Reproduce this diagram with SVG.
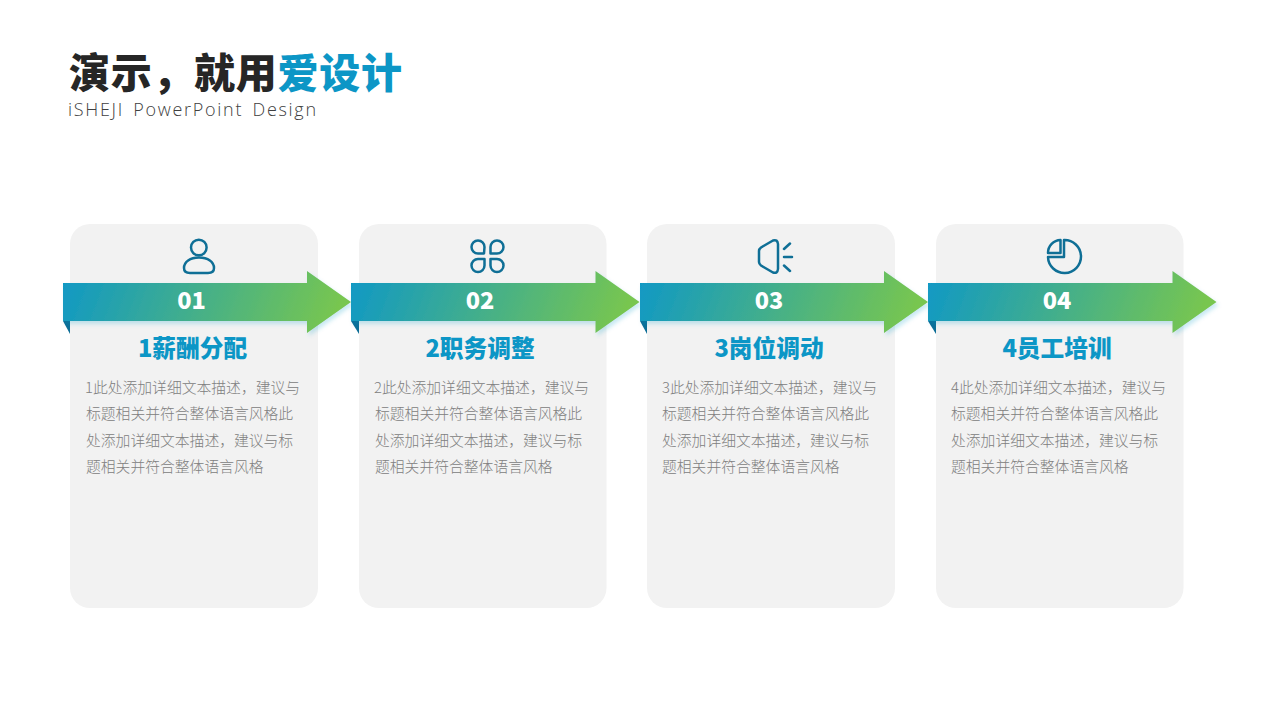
<svg xmlns="http://www.w3.org/2000/svg" width="1280" height="720" viewBox="0 0 1280 720">
<style>
.cjk{font-family:"Noto Sans CJK SC","Noto Sans",sans-serif}
.h{font-size:41px;font-weight:900;fill:#262626}
.sub{font-family:"Open Sans","Noto Sans",sans-serif;font-size:18px;font-weight:300;fill:#404040;letter-spacing:1.7px;word-spacing:3px}
.card{fill:#f2f2f2}
.num{font-family:"Noto Sans CJK SC","Noto Sans",sans-serif;font-size:23.5px;font-weight:900;fill:#fff;text-anchor:middle}
.t{font-family:"Noto Sans CJK SC","Noto Sans",sans-serif;font-size:23.7px;font-weight:900;fill:#0c96c6;text-anchor:middle}
.b{font-family:"Noto Sans CJK SC",sans-serif;font-size:14.8px;font-weight:300;fill:#808080}
.ic{fill:none;stroke:#0f6f96;stroke-width:2.5;stroke-linecap:round;stroke-linejoin:round}
.fold{fill:#0b6d96}
</style>
<defs>
<linearGradient id="g" x1="0" y1="0" x2="1" y2="0.08"><stop offset="0" stop-color="#0f98c6"/><stop offset="1" stop-color="#78c64f"/></linearGradient>
<filter id="s" x="-5%" y="-20%" width="110%" height="140%"><feDropShadow dx="2" dy="3" stdDeviation="2" flood-color="#0f98c6" flood-opacity=".22"/></filter>
</defs>
<rect width="1280" height="720" fill="#fff"/>
<g id="title">
<text x="69" y="88" class="cjk h" letter-spacing=".7">演示&#65292;就用<tspan fill="#0c96c6">爱设计</tspan></text>
<text x="68" y="116" class="sub">iSHEJI PowerPoint Design</text>
</g>
<g id="node1">
<rect class="card" x="70" y="224" width="248" height="384" rx="20"/>
<path class="fold" d="M63 321H70V334Z"/>
<path d="M63 283H307V271L351 302 307 333V321H63Z" fill="url(#g)" filter="url(#s)"/>
<g class="ic"><circle cx="198.800" cy="247.500" r="7.800"/><path d="M190 273H208C212 273 214 271 214 268C214 262 208 257.500 199 257.500C190 257.500 184 262 184 268C184 271 186 273 190 273Z"/></g>
<text class="num" x="191.500" y="309">01</text>
<text class="t" x="192.500" y="357">1薪酬分配</text>
<text class="b"><tspan x="85" y="393">1此处添加详细文本描述&#65292;建议与</tspan><tspan x="86" y="419.300">标题相关并符合整体语言风格此</tspan><tspan x="86" y="445.600">处添加详细文本描述&#65292;建议与标</tspan><tspan x="86" y="472">题相关并符合整体语言风格</tspan></text>
</g>
<g id="node2">
<rect class="card" x="359" y="224" width="247.500" height="384" rx="20"/>
<path class="fold" d="M351 321H359V334Z"/>
<path d="M351 283H595.500V271L639.500 302 595.500 333V321H351Z" fill="url(#g)" filter="url(#s)"/>
<g class="ic"><path d="M484 253.500H478A6.500 6.500 0 1 1 484.500 247Z"/><path d="M490.500 253.500V247A6.500 6.500 0 1 1 497 253.500Z"/><path d="M484.500 259V265.500A6.500 6.500 0 1 1 478 259Z"/><path d="M490.500 259H497A6.500 6.500 0 1 1 490.500 265.500Z"/></g>
<text class="num" x="480" y="309">02</text>
<text class="t" x="480" y="357">2职务调整</text>
<text class="b"><tspan x="374" y="393">2此处添加详细文本描述&#65292;建议与</tspan><tspan x="375" y="419.300">标题相关并符合整体语言风格此</tspan><tspan x="375" y="445.600">处添加详细文本描述&#65292;建议与标</tspan><tspan x="375" y="472">题相关并符合整体语言风格</tspan></text>
</g>
<g id="node3">
<rect class="card" x="647" y="224" width="248" height="384" rx="20"/>
<path class="fold" d="M640 321H647V334Z"/>
<path d="M640 283H884V271L928 302 884 333V321H640Z" fill="url(#g)" filter="url(#s)"/>
<g class="ic"><path d="M759 251Q759 249 761 247.500L773 240.500Q777.500 239 778 244V269Q777.500 274 773 272.500L761 265.500Q759 264 759 262Z"/><path d="M784 249L790 243.500M784 257H792M784 265.500L790 271"/></g>
<text class="num" x="769" y="309">03</text>
<text class="t" x="769" y="357">3岗位调动</text>
<text class="b"><tspan x="662" y="393">3此处添加详细文本描述&#65292;建议与</tspan><tspan x="662" y="419.300">标题相关并符合整体语言风格此</tspan><tspan x="662" y="445.600">处添加详细文本描述&#65292;建议与标</tspan><tspan x="662" y="472">题相关并符合整体语言风格</tspan></text>
</g>
<g id="node4">
<rect class="card" x="936" y="224" width="247.500" height="384" rx="20"/>
<path class="fold" d="M928 321H936V334Z"/>
<path d="M928 283H1172.500V271L1216.500 302 1172.500 333V321H928Z" fill="url(#g)" filter="url(#s)"/>
<g class="ic"><path d="M1064 240A16.500 16.500 0 1 1 1048 257H1064Z"/><path d="M1060.500 240V253H1048A13 13 0 0 1 1060.500 240Z"/></g>
<text class="num" x="1057" y="309">04</text>
<text class="t" x="1057" y="357">4员工培训</text>
<text class="b"><tspan x="951" y="393">4此处添加详细文本描述&#65292;建议与</tspan><tspan x="951" y="419.300">标题相关并符合整体语言风格此</tspan><tspan x="951" y="445.600">处添加详细文本描述&#65292;建议与标</tspan><tspan x="951" y="472">题相关并符合整体语言风格</tspan></text>
</g>
<g id="connectors"></g>
</svg>
